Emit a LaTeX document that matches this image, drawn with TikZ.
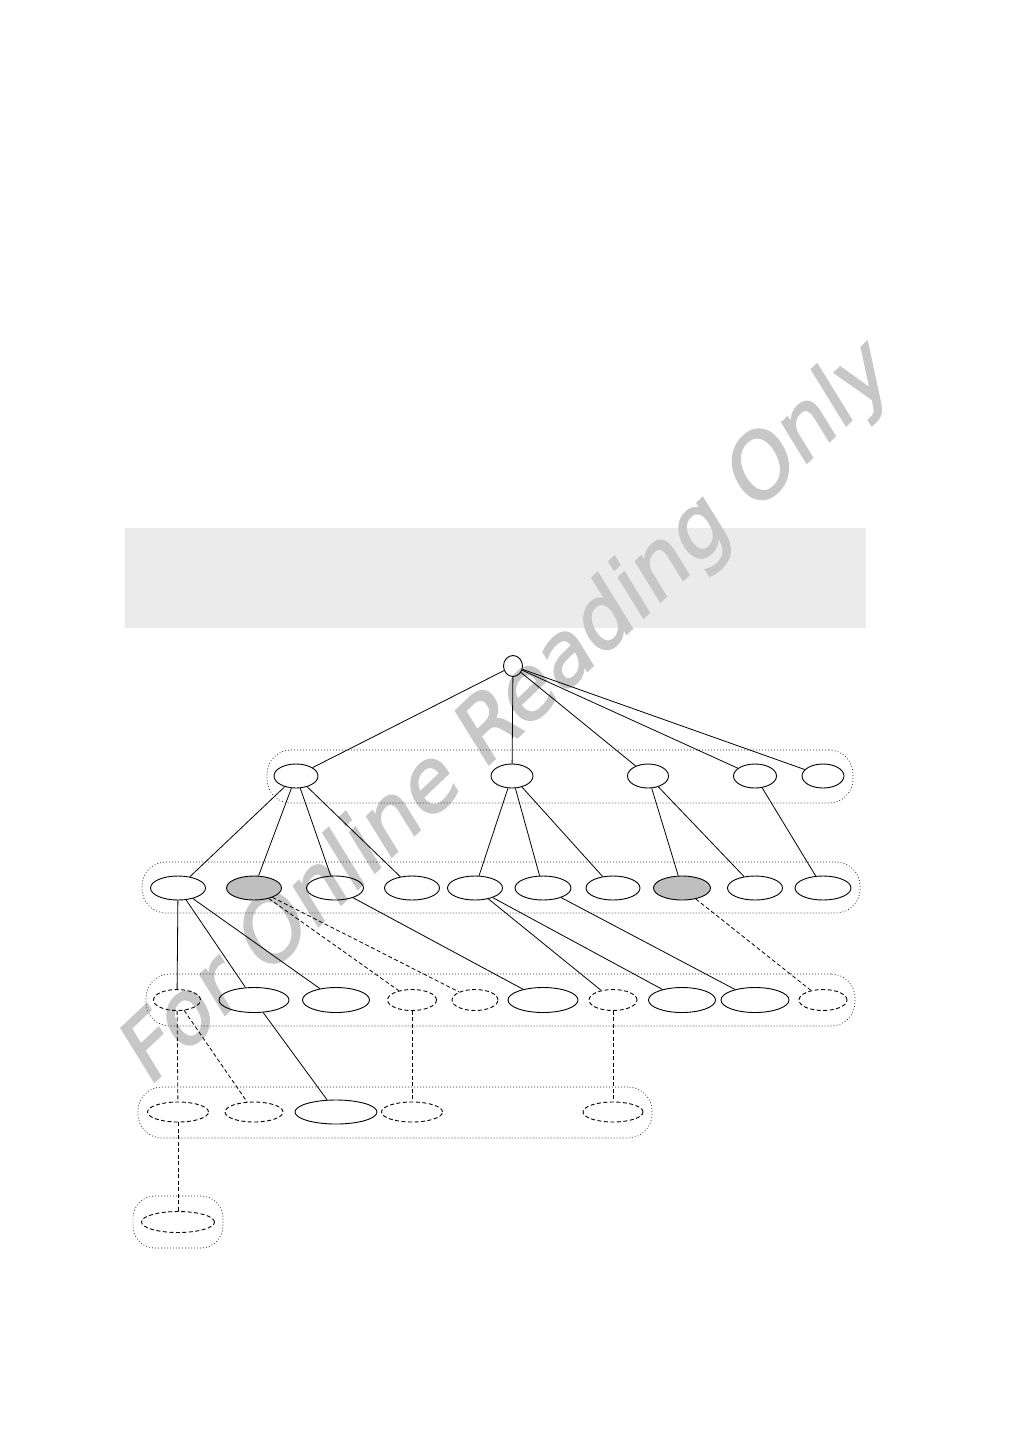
\documentclass[tikz,border=0pt]{standalone}
\usepackage{fontspec}
\usepackage{xcolor}
\usepackage{tikz}
\usetikzlibrary{shapes.geometric}

\newfontfamily\markfont[FakeSlant=0.21, FakeBold=2]{DejaVu Sans}

\begin{document}
\begin{tikzpicture}[
  x=1pt, y=-1pt,
  vert/.style={draw, ellipse, inner sep=0pt, line width=0.9pt},
  ghost/.style={vert, dash pattern=on 4pt off 2.5pt},
  shaded/.style={vert, fill=black!25},
  link/.style={line width=0.8pt},
  ghostlink/.style={link, dash pattern=on 4pt off 2.5pt},
  group/.style={draw=black!85, dash pattern=on 0.9pt off 2.1pt, line width=0.7pt, rounded corners=24pt, inner sep=0pt, outer sep=0pt},
]

  \useasboundingbox (0,0) rectangle (1009,1441);

  % Banner
  \fill[black!8] (125,528) rectangle (866,628);

  % Watermark
  \node[font=\markfont\fontsize{85}{85}\selectfont, text=black!22, rotate=43.5] (mark) at (505,717) {For Online Reading Only};

  % Level groups
  \node[group, minimum width=586pt, minimum height=53pt] (row1) at (560,776.5) {};
  \node[group, minimum width=718pt, minimum height=51pt] (row2) at (501,887.5) {};
  \node[group, minimum width=709pt, minimum height=52pt] (row3) at (500.5,1000) {};
  \node[group, minimum width=514pt, minimum height=51pt] (row4) at (395,1112.5) {};
  \node[group, minimum width=90pt, minimum height=52pt, rounded corners=22pt] (row5) at (178,1222) {};

  % Root
  \node[vert, minimum width=19pt, minimum height=21pt] (root) at (513,666) {};

  % Level 1
  \node[vert, minimum width=44pt, minimum height=24pt] (a1) at (296,776) {};
  \node[vert, minimum width=42pt, minimum height=24pt] (a2) at (512,776) {};
  \node[vert, minimum width=41pt, minimum height=24pt] (a3) at (648,776) {};
  \node[vert, minimum width=43pt, minimum height=24pt] (a4) at (755,776) {};
  \node[vert, minimum width=42pt, minimum height=24pt] (a5) at (823,776) {};

  % Level 2
  \node[vert, minimum width=55pt, minimum height=24pt] (b1) at (178,888) {};
  \node[shaded, minimum width=55pt, minimum height=24pt] (b2) at (254,888) {};
  \node[vert, minimum width=57pt, minimum height=24pt] (b3) at (335,888) {};
  \node[vert, minimum width=55pt, minimum height=24pt] (b4) at (412,888) {};
  \node[vert, minimum width=55pt, minimum height=24pt] (b5) at (475,888) {};
  \node[vert, minimum width=56pt, minimum height=24pt] (b6) at (543,888) {};
  \node[vert, minimum width=54pt, minimum height=24pt] (b7) at (613,888) {};
  \node[shaded, minimum width=57pt, minimum height=24pt] (b8) at (682,888) {};
  \node[vert, minimum width=55pt, minimum height=24pt] (b9) at (755,888) {};
  \node[vert, minimum width=56pt, minimum height=24pt] (b10) at (823,888) {};

  % Level 3
  \node[ghost, minimum width=47pt, minimum height=21pt] (c1) at (177,1000) {};
  \node[vert, minimum width=70pt, minimum height=25pt] (c2) at (254,1000) {};
  \node[vert, minimum width=67pt, minimum height=25pt] (c3) at (336,1000) {};
  \node[ghost, minimum width=49pt, minimum height=21pt] (c4) at (412,1000) {};
  \node[ghost, minimum width=46pt, minimum height=21pt] (c5) at (475,1000) {};
  \node[vert, minimum width=70pt, minimum height=25pt] (c6) at (543,1000) {};
  \node[ghost, minimum width=48pt, minimum height=21pt] (c7) at (613,1000) {};
  \node[vert, minimum width=67pt, minimum height=25pt] (c8) at (682,1000) {};
  \node[vert, minimum width=68pt, minimum height=25pt] (c9) at (755,1000) {};
  \node[ghost, minimum width=48pt, minimum height=21pt] (c10) at (823,1000) {};

  % Level 4
  \node[ghost, minimum width=61pt, minimum height=20pt] (d1) at (178,1112) {};
  \node[ghost, minimum width=58pt, minimum height=20pt] (d2) at (254,1112) {};
  \node[vert, minimum width=82pt, minimum height=24pt] (d3) at (336,1112) {};
  \node[ghost, minimum width=61pt, minimum height=20pt] (d4) at (412,1112) {};
  \node[ghost, minimum width=60pt, minimum height=20pt] (d5) at (613,1112) {};

  % Level 5
  \node[ghost, minimum width=73pt, minimum height=21pt] (e1) at (178,1222) {};

  % Tree edges
  \foreach \t in {a1,a2,a3,a4,a5} \draw[link] (root) -- (\t);
  \foreach \t in {b1,b2,b3,b4} \draw[link] (a1) -- (\t);
  \foreach \t in {b5,b6,b7} \draw[link] (a2) -- (\t);
  \draw[link] (a3) -- (b8);
  \draw[link] (a3) -- (b9);
  \draw[link] (a4) -- (b10);
  \foreach \t in {c1,c2,c3} \draw[link] (b1) -- (\t);
  \draw[link] (b3) -- (c6);
  \draw[link] (b5) -- (c7);
  \draw[link] (b5) -- (c8);
  \draw[link] (b6) -- (c9);
  \draw[link] (c2) -- (d3);

  % Dashed edges
  \draw[ghostlink] (b2) -- (c4);
  \draw[ghostlink] (b2) -- (c5);
  \draw[ghostlink] (b8) -- (c10);
  \draw[ghostlink] (c1) -- (d1);
  \draw[ghostlink] (c1) -- (d2);
  \draw[ghostlink] (c4) -- (d4);
  \draw[ghostlink] (c7) -- (d5);
  \draw[ghostlink] (d1) -- (e1);

\end{tikzpicture}
\end{document}
